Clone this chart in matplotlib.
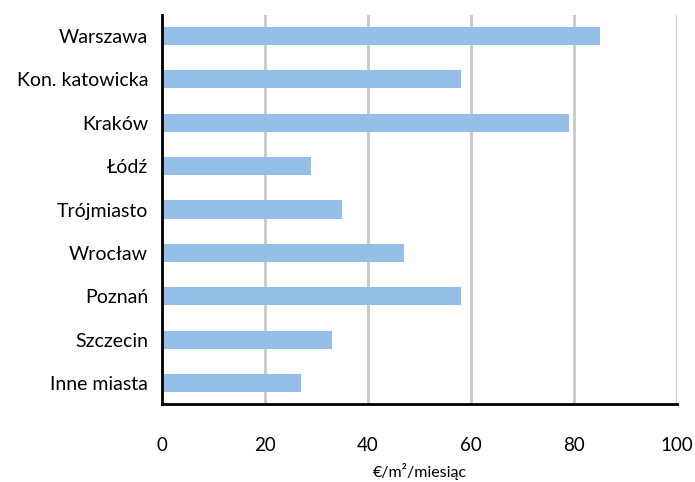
import numpy as np
import matplotlib.pyplot as plt

plt.rcParams['font.family'] = ['Lato', 'DejaVu Sans']

cities = ['Warszawa', 'Kon. katowicka', 'Kraków', 'Łódź', 'Trójmiasto',
          'Wrocław', 'Poznań', 'Szczecin', 'Inne miasta']
rents = [85, 58, 79, 29, 35, 47, 58, 33, 27]
xticks = [0, 20, 40, 60, 80, 100]

fig = plt.figure(figsize=(6.95, 4.82), dpi=100)
ax = fig.add_axes([162 / 695, 1 - 404 / 482, (677 - 162) / 695, (404 - 15) / 482])

pos = np.arange(len(cities))
ax.barh(pos, rents, height=0.42, color='#95BFE8', zorder=3)

ax.set_ylim(len(cities) - 0.52, -0.48)
ax.set_xlim(0, 100)
ax.set_xticks(xticks)
ax.set_yticks(pos)
ax.set_yticklabels(cities, fontsize=14)
ax.tick_params(axis='x', labelsize=13.5, length=0, pad=24)
ax.tick_params(axis='y', length=0, pad=10)

ax.xaxis.grid(True, color='#c8c8c8', linewidth=2, zorder=0)
for s in ['top', 'right']:
    ax.spines[s].set_visible(False)
for s in ['left', 'bottom']:
    ax.spines[s].set_linewidth(2)
    ax.spines[s].set_color('black')
    ax.spines[s].set_zorder(4)

ax.set_xlabel('€/m²/miesiąc', fontsize=11.5, labelpad=6)

fig.savefig('out.png', dpi=100)
